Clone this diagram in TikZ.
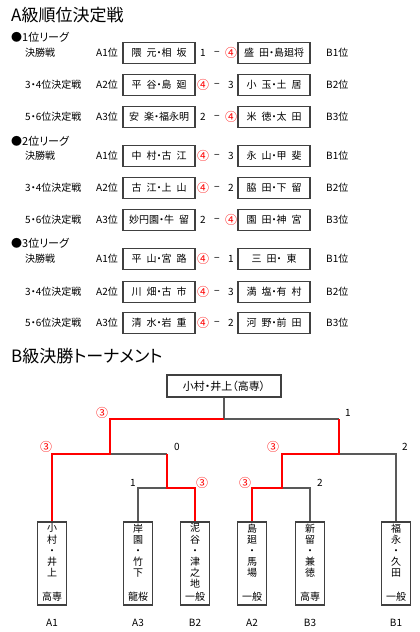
\documentclass[tikz,border=0pt]{standalone}
\usepackage{fontspec}
\setmainfont{Noto Sans CJK JP}[RawFeature=+palt]
\newcommand\W[1]{\textcolor{red}{\fontsize{12}{12}\selectfont #1}}
\newcommand\jsp{\hspace{0.5em}}
\tikzset{
  every node/.style={font=\fontsize{10}{11.2}\selectfont, inner sep=0pt},
  namebox/.style={draw=black!75, line width=1.1pt, minimum width=72pt, minimum height=21pt, inner sep=0pt},
  vbox/.style={draw=black!75, line width=1.1pt, minimum width=29pt, minimum height=83pt},
  gline/.style={draw=black!65, line width=1.2pt},
  rline/.style={draw=red, line width=2.2pt},
  ttl/.style={anchor=west, font=\fontsize{17}{20}\selectfont},
  lg/.style={anchor=west, font=\fontsize{11}{13}\selectfont},
  rs/.style={text=red, font=\fontsize{12}{12}\selectfont},
}
\newcommand\mrow[9]{%
  \node[anchor=west] (lab#9) at (25,#1) {#2};
  \node[anchor=west] (ar#9) at (96,#1) {#3};
  \node[namebox] (L#9) at (159,#1) {#4};
  \node (ls#9) at (203,#1) {#5};
  \node (d#9) at (217,#1) {−};
  \node (rs#9) at (231,#1) {#6};
  \node[namebox] (R#9) at (274,#1) {#7};
  \node[anchor=west] (br#9) at (326,#1) {#8};
}
\begin{document}
\begin{tikzpicture}[x=1pt,y=-1pt]
\useasboundingbox (0,0) rectangle (420,632);
% ---- A class ----
\node[ttl] (titleA) at (11,15) {A級順位決定戦};
\node[lg] (lg1) at (11,37) {●1位リーグ};
\mrow{53}{決勝戦}{A1位}{隈\jsp 元・相\jsp 坂}{1}{\W{④}}{盛\jsp 田・島廻将}{B1位}{a}
\mrow{85}{3・4位決定戦}{A2位}{平\jsp 谷・島\jsp 廻}{\W{④}}{3}{小\jsp 玉・土\jsp 居}{B2位}{b}
\mrow{117}{5・6位決定戦}{A3位}{安\jsp 楽・福永明}{2}{\W{④}}{米\jsp 徳・太\jsp 田}{B3位}{c}
\node[lg] (lg2) at (11,141) {●2位リーグ};
\mrow{156}{決勝戦}{A1位}{中\jsp 村・古\jsp 江}{\W{④}}{3}{永\jsp 山・甲\jsp 斐}{B1位}{d}
\mrow{188}{3・4位決定戦}{A2位}{古\jsp 江・上\jsp 山}{\W{④}}{2}{脇\jsp 田・下\jsp 留}{B2位}{e}
\mrow{220}{5・6位決定戦}{A3位}{妙円園・牛\jsp 留}{2}{\W{④}}{園\jsp 田・神\jsp 宮}{B3位}{f}
\node[lg] (lg3) at (11,243) {●3位リーグ};
\mrow{259}{決勝戦}{A1位}{平\jsp 山・宮\jsp 路}{\W{④}}{1}{三\jsp 田・\jsp 東}{B1位}{g}
\mrow{292}{3・4位決定戦}{A2位}{川\jsp 畑・古\jsp 市}{\W{④}}{3}{満\jsp 塩・有\jsp 村}{B2位}{h}
\mrow{323}{5・6位決定戦}{A3位}{清\jsp 水・岩\jsp 重}{\W{④}}{2}{河\jsp 野・前\jsp 田}{B3位}{i}
% ---- B class ----
\node[ttl] (titleB) at (11,356) {B級決勝トーナメント};
\node[namebox, minimum width=114pt, minimum height=22pt, font=\fontsize{11}{13}\selectfont] (champ) at (224,386) {小村・井上（高専）};
% players
\node[vbox] (b1) at (52,563.5) {};
\node[vbox] (b2) at (138,563.5) {};
\node[vbox] (b3) at (195,563.5) {};
\node[vbox] (b4) at (252,563.5) {};
\node[vbox] (b5) at (310,563.5) {};
\node[vbox] (b6) at (396,563.5) {};
\node[anchor=north, align=center] (t1) at (52,523.5) {小\\村\\・\\井\\上};
\node[anchor=north, align=center] (t2) at (138,523.5) {岸\\園\\・\\竹\\下};
\node[anchor=north, align=center] (t3) at (195,523.5) {泥\\谷\\・\\津\\之\\地};
\node[anchor=north, align=center] (t4) at (252,523.5) {島\\廻\\・\\馬\\場};
\node[anchor=north, align=center] (t5) at (310,523.5) {新\\留\\・\\兼\\徳};
\node[anchor=north, align=center] (t6) at (396,523.5) {福\\永\\・\\久\\田};
\node (u1) at (52,597) {高専};
\node (u2) at (138,597) {龍桜};
\node (u3) at (195,597) {一般};
\node (u4) at (252,597) {一般};
\node (u5) at (310,597) {高専};
\node (u6) at (396,597) {一般};
\node (p1) at (52,623) {A1};
\node (p2) at (138,623) {A3};
\node (p3) at (195,623) {B2};
\node (p4) at (252,623) {A2};
\node (p5) at (310,623) {B3};
\node (p6) at (396,623) {B1};
% junctions
\coordinate (top) at (224,419);
\coordinate (jL) at (110,419);
\coordinate (jR) at (339,419);
\coordinate (jLd) at (110,454);
\coordinate (jRd) at (339,454);
\coordinate (kLL) at (52,454);
\coordinate (kLR) at (167,454);
\coordinate (kRL) at (282,454);
\coordinate (kRR) at (396,454);
\coordinate (kLRd) at (167,488);
\coordinate (kRLd) at (282,488);
\coordinate (m1) at (138,488);
\coordinate (m2) at (195,488);
\coordinate (m3) at (252,488);
\coordinate (m4) at (310,488);
% gray lines
\draw[gline] (champ.south) -- (top) -- (jR);
\draw[gline] (jLd) -- (kLR);
\draw[gline] (kLRd) -- (m1) -- (b2.north);
\draw[gline] (kRLd) -- (m4) -- (b5.north);
\draw[gline] (jRd) -- (kRR) -- (b6.north);
% red lines
\draw[rline] (b1.north) -- (kLL) -- (jLd) -- (jL) -- (top);
\draw[rline] (b3.north) -- (m2) -- (kLRd) -- (kLR);
\draw[rline] (b4.north) -- (m3) -- (kRLd) -- (kRL) -- (jRd) -- (jR);
% scores
\node[rs] (s1) at (102,413) {③};
\node (s2) at (348,413) {1};
\node[rs] (s3) at (46,447) {③};
\node (s4) at (177,447) {0};
\node[rs] (s5) at (273,447) {③};
\node (s6) at (405,447) {2};
\node (s7) at (133,483) {1};
\node[rs] (s8) at (202,483) {③};
\node[rs] (s9) at (245,483) {③};
\node (s10) at (320,483) {2};
\end{tikzpicture}
\end{document}
